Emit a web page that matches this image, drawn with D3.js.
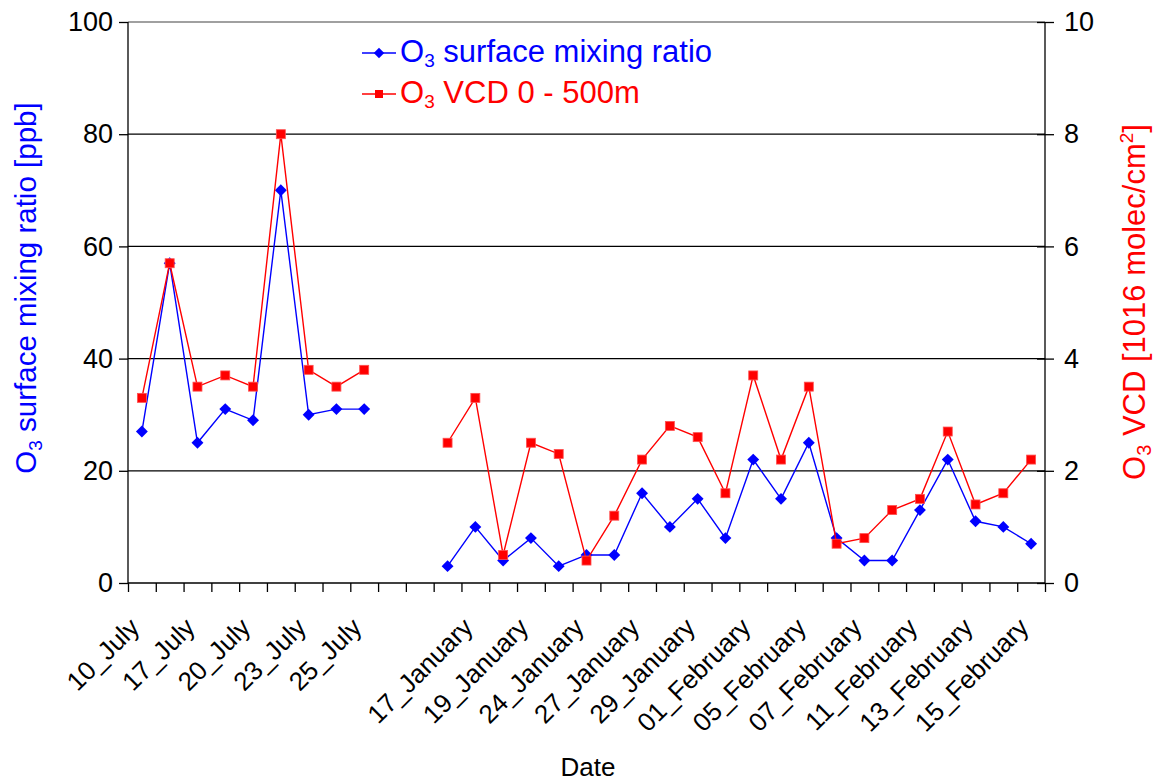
<!DOCTYPE html>
<html>
<head>
<meta charset="utf-8">
<script src="https://cdn.jsdelivr.net/npm/d3@7"></script>
<style>
  html, body { margin: 0; padding: 0; background: #fff; }
  svg { display: block; font-family: "Liberation Sans", Arial, sans-serif; }
</style>
</head>
<body>
<svg id="chart" width="1157" height="782"></svg>
<script>
// ---- data ----
const dateLabels = ["10_July","","17_July","","20_July","","23_July","","25_July","","","",
  "17_January","","19_January","","24_January","","27_January","","29_January","",
  "01_February","","05_February","","07_February","","11_February","","13_February","","15_February"];
const surfaceO3 = [27,57,25,31,29,70,30,31,31,null,null,
  3,10,4,8,3,5,5,16,10,15,8,22,15,25,8,4,4,13,22,11,10,7];
const vcdO3 = [3.3,5.7,3.5,3.7,3.5,8.0,3.8,3.5,3.8,null,null,
  2.5,3.3,0.5,2.5,2.3,0.4,1.2,2.2,2.8,2.6,1.6,3.7,2.2,3.5,0.7,0.8,1.3,1.5,2.7,1.4,1.6,2.2];
const leftTicks = [0,20,40,60,80,100];
const rightTicks = [0,2,4,6,8,10];

// ---- layout ----
const L = 128, R = 1045, T = 22, B = 583;
const blue = "#0000ff", red = "#ff0000";
const svg = d3.select("#chart");

const idx = d3.range(dateLabels.length);
const x = d3.scaleBand().domain(idx).range([L, R]);
const xb = d3.scaleLinear().domain([0, idx.length]).range([L, R]);
const yL = d3.scaleLinear().domain([0, 100]).range([B, T]);
const yR = d3.scaleLinear().domain([0, 10]).range([B, T]);
const cx = i => x(i) + x.bandwidth() / 2;

// gridlines
svg.append("g").selectAll("line").data(leftTicks.filter(d => d > 0 && d < 100)).join("line")
  .attr("x1", L).attr("x2", R).attr("y1", d => yL(d)).attr("y2", d => yL(d))
  .attr("stroke", "#000").attr("stroke-width", 1.3);
// top border
svg.append("line").attr("x1", L).attr("x2", R).attr("y1", T).attr("y2", T)
  .attr("stroke", "#808080").attr("stroke-width", 1.5);

// left axis
const gl = svg.append("g").attr("transform", `translate(${L},0)`)
  .call(d3.axisLeft(yL).tickValues(leftTicks).tickSize(9).tickPadding(6).tickFormat(d3.format("d")));
gl.selectAll("text").attr("font-size", 27).attr("fill", "#000").attr("font-family", "Liberation Sans, Arial, sans-serif");
gl.selectAll("line, path").attr("stroke", "#000").attr("stroke-width", 1.3);
gl.select(".domain").attr("d", `M0,${B}V${T}`);

// right axis (cross ticks)
const gr = svg.append("g").attr("transform", `translate(${R},0)`)
  .call(d3.axisRight(yR).tickValues(rightTicks).tickSize(9).tickPadding(10).tickFormat(d3.format("d")));
gr.selectAll(".tick line").attr("x1", -8);
gr.selectAll("text").attr("font-size", 27).attr("fill", "#000").attr("font-family", "Liberation Sans, Arial, sans-serif");
gr.selectAll("line, path").attr("stroke", "#000").attr("stroke-width", 1.3);
gr.select(".domain").attr("d", `M0,${B}V${T}`);

// bottom axis: tick marks at category boundaries
const gb = svg.append("g").attr("transform", `translate(0,${B})`)
  .call(d3.axisBottom(xb).tickValues(d3.range(idx.length + 1)).tickSize(9).tickFormat(""));
gb.selectAll("line, path").attr("stroke", "#000").attr("stroke-width", 1.3);
gb.select(".domain").attr("d", `M${L},0H${R}`);

// category labels
svg.append("g").selectAll("text").data(idx.filter(i => dateLabels[i] !== "")).join("text")
  .attr("transform", i => `translate(${cx(i) - 1},${629}) rotate(-45)`)
  .attr("text-anchor", "end").attr("font-size", 26).attr("fill", "#000")
  .text(i => dateLabels[i]);

// x title
svg.append("text").attr("x", 588).attr("y", 776).attr("text-anchor", "middle")
  .attr("font-size", 26).attr("fill", "#000").text("Date");

// left title
const lt = svg.append("text").attr("transform", "translate(36,288) rotate(-90)")
  .attr("text-anchor", "middle").attr("font-size", 29.5).attr("fill", blue);
lt.append("tspan").text("O");
lt.append("tspan").attr("font-size", 19).attr("dy", 6).text("3");
lt.append("tspan").attr("dy", -6).text(" surface mixing ratio [ppb]");

// right title
const rt = svg.append("text").attr("transform", "translate(1145,302) rotate(-90)")
  .attr("text-anchor", "middle").attr("font-size", 31).attr("fill", red);
rt.append("tspan").text("O");
rt.append("tspan").attr("font-size", 20).attr("dy", 6).text("3");
rt.append("tspan").attr("dy", -6).text(" VCD [1016 molec/cm");
rt.append("tspan").attr("font-size", 19).attr("dy", -12).text("2");
rt.append("tspan").attr("dy", 12).text("]");

// series
const lineL = d3.line().defined(d => d.v !== null).x(d => cx(d.i)).y(d => yL(d.v));
const lineR = d3.line().defined(d => d.v !== null).x(d => cx(d.i)).y(d => yR(d.v));
const sBlue = surfaceO3.map((v, i) => ({ i, v }));
const sRed = vcdO3.map((v, i) => ({ i, v }));

svg.append("path").datum(sBlue).attr("d", lineL).attr("fill", "none").attr("stroke", blue).attr("stroke-width", 1.4);
svg.append("g").selectAll("path").data(sBlue.filter(d => d.v !== null)).join("path")
  .attr("d", d3.symbol(d3.symbolDiamond2, 90)).attr("transform", d => `translate(${cx(d.i)},${yL(d.v)})`)
  .attr("fill", blue);

svg.append("path").datum(sRed).attr("d", lineR).attr("fill", "none").attr("stroke", red).attr("stroke-width", 1.4);
svg.append("g").selectAll("rect").data(sRed.filter(d => d.v !== null)).join("rect")
  .attr("x", d => cx(d.i) - 4.5).attr("y", d => yR(d.v) - 4.5).attr("width", 9).attr("height", 9)
  .attr("fill", red).attr("stroke", "#ff5050").attr("stroke-width", 0.8);

// legend
const legend = [
  { name: "surface mixing ratio", color: blue, y: 53, marker: "diamond" },
  { name: "VCD 0 - 500m", color: red, y: 94, marker: "square" }
];
const lg = svg.append("g").selectAll("g").data(legend).join("g")
  .attr("transform", d => `translate(0,${d.y})`);
lg.append("line").attr("x1", 362).attr("x2", 396).attr("stroke", d => d.color).attr("stroke-width", 1.4);
lg.filter(d => d.marker === "diamond").append("path")
  .attr("d", d3.symbol(d3.symbolDiamond2, 70)).attr("transform", "translate(379,0)").attr("fill", blue);
lg.filter(d => d.marker === "square").append("rect")
  .attr("x", 375).attr("y", -4).attr("width", 8).attr("height", 8).attr("fill", red);
const lt2 = lg.append("text").attr("x", 400).attr("y", 9).attr("font-size", 31).attr("fill", d => d.color);
lt2.append("tspan").text("O");
lt2.append("tspan").attr("font-size", 19).attr("dy", 5).text("3");
lt2.append("tspan").attr("dy", -5).text(d => " " + d.name);
</script>
</body>
</html>
